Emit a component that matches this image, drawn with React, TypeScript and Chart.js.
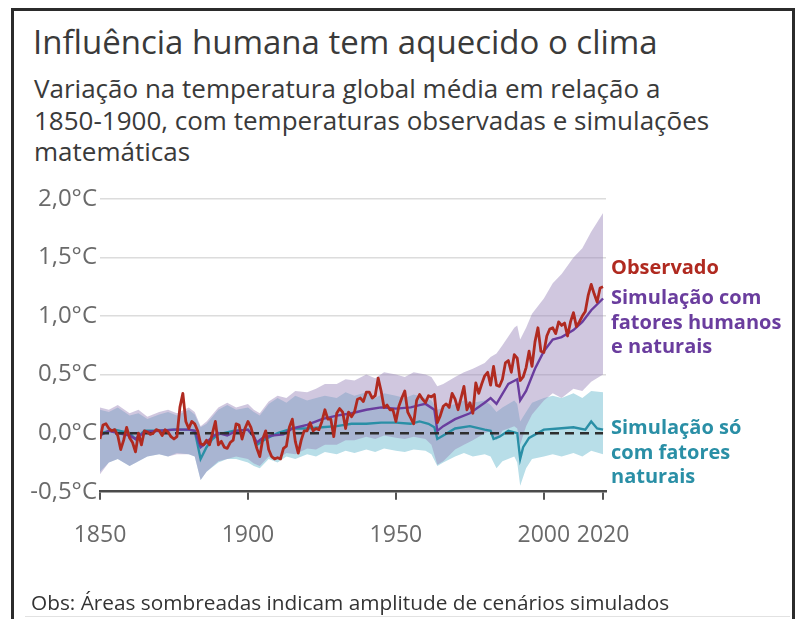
import React, { useEffect, useRef } from "react";
import { Chart, registerables } from "chart.js";

Chart.register(...registerables);

// ---------- DATA ----------
const START_YEAR = 1850;

// Observed global mean temperature change vs 1850-1900 (°C), one value per year 1850..2020
const observed = [
  -0.05, 0.07, 0.08, 0.04, 0.02, 0.03, -0.02, -0.14, -0.06, 0.05,
  -0.04, -0.08, -0.16, 0.0, -0.1, 0.02, 0.01, -0.01, 0.0, 0.03,
  0.02, -0.02, 0.03, 0.01, -0.03, -0.05, -0.03, 0.22, 0.34, 0.1,
  0.04, 0.1, 0.08, 0.02, -0.09, -0.1, -0.06, -0.1, 0.0, 0.1,
  -0.1, -0.07, -0.12, -0.13, -0.08, -0.06, 0.08, 0.07, -0.05, 0.04,
  0.1, 0.05, -0.04, -0.13, -0.2, -0.05, 0.02, -0.14, -0.2, -0.22,
  -0.21, -0.22, -0.13, -0.11, 0.05, 0.12, -0.07, -0.17, -0.06, 0.02,
  0.02, 0.09, 0.02, 0.04, 0.03, 0.1, 0.2, 0.12, 0.12, -0.03,
  0.17, 0.21, 0.18, 0.04, 0.18, 0.14, 0.18, 0.29, 0.3, 0.27,
  0.35, 0.35, 0.3, 0.32, 0.47, 0.36, 0.22, 0.24, 0.2, 0.2,
  0.1, 0.23, 0.3, 0.36, 0.18, 0.13, 0.08, 0.28, 0.33, 0.29,
  0.26, 0.32, 0.31, 0.33, 0.09, 0.15, 0.23, 0.25, 0.22, 0.34,
  0.29, 0.2, 0.3, 0.4, 0.2, 0.26, 0.17, 0.43, 0.34, 0.42,
  0.49, 0.52, 0.41, 0.57, 0.41, 0.4, 0.46, 0.6, 0.62, 0.52,
  0.67, 0.64, 0.45, 0.48, 0.56, 0.7, 0.57, 0.78, 0.9, 0.7,
  0.69, 0.83, 0.89, 0.9, 0.85, 0.95, 0.92, 0.94, 0.83, 0.95,
  1.03, 0.91, 0.95, 1.0, 1.04, 1.18, 1.27, 1.19, 1.12, 1.24,
  1.25,
];

// Simulation with human + natural factors (mean)
const humanYears = [
  1850, 1853, 1856, 1860, 1862, 1865, 1870, 1875, 1880, 1882, 1884, 1886, 1888,
  1890, 1893, 1896, 1900, 1902, 1903, 1905, 1908, 1912, 1915, 1920, 1925, 1930,
  1935, 1940, 1945, 1950, 1955, 1958, 1960, 1963, 1964, 1966, 1970, 1975, 1980,
  1982, 1984, 1988, 1991, 1992, 1994, 1997, 2000, 2003, 2006, 2010, 2013, 2016,
  2020,
];
const humanValues = [
  -0.02, 0.02, 0.0, -0.02, -0.05, 0.01, 0.02, 0.03, 0.03, 0.02, -0.12, -0.08, -0.03,
  0.0, -0.02, 0.02, 0.03, -0.03, -0.08, -0.04, -0.02, -0.01, 0.04, 0.07, 0.12, 0.15,
  0.17, 0.2, 0.22, 0.21, 0.22, 0.24, 0.25, 0.2, 0.02, 0.06, 0.12, 0.17, 0.26,
  0.3, 0.25, 0.42, 0.46, 0.28, 0.36, 0.55, 0.7, 0.8, 0.82, 0.88, 0.95, 1.05,
  1.15,
];

// Simulation with natural factors only (mean)
const naturalYears = [
  1850, 1855, 1860, 1862, 1865, 1870, 1875, 1880, 1882, 1884, 1886, 1888, 1890,
  1895, 1900, 1902, 1903, 1906, 1910, 1915, 1920, 1925, 1930, 1935, 1940, 1945,
  1950, 1955, 1958, 1961, 1963, 1964, 1966, 1970, 1975, 1980, 1982, 1983, 1985,
  1988, 1991, 1992, 1993, 1995, 2000, 2005, 2010, 2014, 2016, 2018, 2020,
];
const naturalValues = [
  0.0, 0.03, 0.0, -0.05, 0.02, 0.02, 0.03, 0.03, 0.02, -0.22, -0.12, -0.05, -0.01,
  0.02, 0.03, -0.03, -0.1, -0.05, 0.0, 0.04, 0.04, 0.05, 0.06, 0.08, 0.08, 0.09,
  0.09, 0.08, 0.1, 0.08, 0.05, -0.05, -0.02, 0.04, 0.06, 0.03, 0.02, -0.05, -0.03,
  0.02, 0.0, -0.22, -0.12, -0.04, 0.03, 0.04, 0.05, 0.03, 0.1, 0.04, 0.03,
];

// Simulated ranges (shaded areas)
const bandYears = [
  1850, 1853, 1856, 1860, 1863, 1866, 1870, 1873, 1876, 1880, 1882, 1884, 1886,
  1890, 1893, 1896, 1900, 1902, 1904, 1907, 1910, 1913, 1916, 1920, 1923, 1926,
  1930, 1933, 1936, 1940, 1943, 1946, 1950, 1953, 1956, 1960, 1962, 1964, 1966,
  1970, 1973, 1976, 1980, 1982, 1984, 1986, 1990, 1991, 1992, 1994, 1996, 2000,
  2003, 2006, 2010, 2013, 2016, 2020,
];
const humanUpper = [
  0.22, 0.2, 0.24, 0.17, 0.2, 0.14, 0.18, 0.2, 0.17, 0.22, 0.18, 0.06, 0.1,
  0.22, 0.26, 0.22, 0.25, 0.2, 0.17, 0.27, 0.32, 0.3, 0.36, 0.35, 0.38, 0.42,
  0.42, 0.46, 0.45, 0.5, 0.47, 0.52, 0.5, 0.48, 0.52, 0.5, 0.48, 0.4, 0.42,
  0.48, 0.52, 0.55, 0.6, 0.65, 0.68, 0.75, 0.9, 0.92, 0.8, 0.9, 1.02, 1.15,
  1.28, 1.36, 1.5, 1.58, 1.72, 1.88,
];
const humanLower = [
  -0.35, -0.25, -0.22, -0.28, -0.24, -0.2, -0.18, -0.2, -0.18, -0.18, -0.2, -0.4, -0.33,
  -0.24, -0.22, -0.2, -0.22, -0.26, -0.28, -0.2, -0.22, -0.17, -0.18, -0.13, -0.14, -0.1,
  -0.1, -0.06, -0.06, -0.03, -0.05, -0.02, -0.04, -0.05, -0.03, -0.05, -0.1, -0.27, -0.24,
  -0.14, -0.1, -0.06, 0.0, 0.02, -0.06, 0.02, 0.06, 0.04, -0.1, 0.06, 0.16, 0.28,
  0.34, 0.3, 0.38, 0.36, 0.44, 0.5,
];
const naturalUpper = [
  0.2, 0.18, 0.22, 0.15, 0.17, 0.12, 0.16, 0.18, 0.15, 0.2, 0.16, 0.05, 0.08,
  0.2, 0.24, 0.2, 0.22, 0.18, 0.15, 0.25, 0.3, 0.26, 0.32, 0.28, 0.3, 0.32,
  0.3, 0.35, 0.32, 0.35, 0.3, 0.34, 0.32, 0.3, 0.33, 0.3, 0.28, 0.2, 0.22,
  0.25, 0.28, 0.26, 0.28, 0.24, 0.18, 0.22, 0.28, 0.25, 0.1, 0.18, 0.26, 0.3,
  0.32, 0.3, 0.34, 0.3, 0.36, 0.35,
];
const naturalLower = [
  -0.33, -0.25, -0.22, -0.28, -0.24, -0.2, -0.18, -0.2, -0.17, -0.18, -0.2, -0.4, -0.33,
  -0.25, -0.22, -0.22, -0.25, -0.28, -0.3, -0.22, -0.25, -0.2, -0.22, -0.18, -0.2, -0.16,
  -0.18, -0.15, -0.17, -0.14, -0.16, -0.13, -0.15, -0.16, -0.14, -0.15, -0.18, -0.28, -0.25,
  -0.2, -0.17, -0.2, -0.18, -0.2, -0.3, -0.24, -0.2, -0.25, -0.45, -0.3, -0.22, -0.2,
  -0.18, -0.2, -0.17, -0.2, -0.15, -0.18,
];

const xTicks = [1850, 1900, 1950, 2000, 2020];
const yTicks = [-0.5, 0, 0.5, 1, 1.5, 2];
const zeroLine = [0, 0];
const zeroLineYears = [1850, 2020];

// ---------- STYLE ----------
const RED = "#b02a20";
const PURPLE = "#6a3d9e";
const TEAL = "#2a8fa6";
const FONT = '"Open Sans", "Noto Sans", sans-serif';

const pts = (xs: number[], ys: number[]) => xs.map((x, i) => ({ x, y: ys[i] }));

export default function App() {
  const canvasRef = useRef<HTMLCanvasElement | null>(null);

  useEffect(() => {
    const canvas = canvasRef.current;
    if (!canvas) return;
    const obsPts = observed.map((v, i) => ({ x: START_YEAR + i, y: v }));
    const chart = new Chart(canvas, {
      type: "line",
      data: {
        datasets: [
          {
            label: "Observado",
            data: obsPts,
            borderColor: RED,
            borderWidth: 2.8,
            pointRadius: 0,
            fill: false,
            order: 0,
            borderJoinStyle: "round",
          },
          {
            label: "zero",
            data: pts(zeroLineYears, zeroLine),
            borderColor: "#2e2e2e",
            borderWidth: 2.5,
            borderDash: [9, 6],
            pointRadius: 0,
            fill: false,
            order: 1,
          },
          {
            label: "Simulação com fatores humanos e naturais",
            data: pts(humanYears, humanValues),
            borderColor: PURPLE,
            borderWidth: 2.4,
            pointRadius: 0,
            fill: false,
            order: 2,
          },
          {
            label: "Simulação só com fatores naturais",
            data: pts(naturalYears, naturalValues),
            borderColor: TEAL,
            borderWidth: 2.4,
            pointRadius: 0,
            fill: false,
            order: 3,
          },
          {
            label: "humanLower",
            data: pts(bandYears, humanLower),
            borderWidth: 0,
            borderColor: "rgba(0,0,0,0)",
            pointRadius: 0,
            fill: false,
            order: 4,
          },
          {
            label: "humanUpper",
            data: pts(bandYears, humanUpper),
            borderWidth: 0,
            borderColor: "rgba(0,0,0,0)",
            backgroundColor: "rgba(150,130,185,0.45)",
            pointRadius: 0,
            fill: 4,
            order: 5,
          },
          {
            label: "naturalLower",
            data: pts(bandYears, naturalLower),
            borderWidth: 0,
            borderColor: "rgba(0,0,0,0)",
            pointRadius: 0,
            fill: false,
            order: 6,
          },
          {
            label: "naturalUpper",
            data: pts(bandYears, naturalUpper),
            borderWidth: 0,
            borderColor: "rgba(0,0,0,0)",
            backgroundColor: "rgb(184,222,232)",
            pointRadius: 0,
            fill: 6,
            order: 7,
          },
        ],
      },
      options: {
        responsive: false,
        animation: false,
        devicePixelRatio: 1,
        layout: { padding: { left: 0, top: 199, right: 195, bottom: 0 } },
        plugins: {
          legend: { display: false },
          tooltip: { enabled: false },
          title: { display: false },
        },
        elements: { line: { tension: 0 } },
        scales: {
          x: {
            type: "linear",
            min: 1850,
            max: 2021,
            afterBuildTicks: (scale: any) => {
              scale.ticks = xTicks.map((v) => ({ value: v }));
            },
            afterFit: (scale: any) => {
              scale.height = 127.3;
            },
            ticks: {
              autoSkip: false,
              maxRotation: 0,
              padding: 22,
              color: "#6a6a6a",
              font: { family: FONT, size: 23 },
              callback: (v: any) => String(v),
            },
            grid: {
              drawOnChartArea: false,
              drawTicks: true,
              tickLength: 8,
              color: "#555",
              lineWidth: 2,
            },
            border: { display: true, color: "#4a4a4a", width: 2.5 },
          },
          y: {
            type: "linear",
            min: -0.5,
            max: 2,
            afterBuildTicks: (scale: any) => {
              scale.ticks = yTicks.map((v) => ({ value: v }));
            },
            afterFit: (scale: any) => {
              scale.width = 100;
            },
            ticks: {
              padding: 3,
              color: "#6a6a6a",
              font: { family: FONT, size: 24 },
              callback: (v: any) => Number(v).toFixed(1).replace(".", ",") + "°C",
            },
            grid: {
              drawTicks: false,
              lineWidth: 1.5,
              color: (c: any) =>
                c.tick && (c.tick.value === 0 || c.tick.value === -0.5) ? "rgba(0,0,0,0)" : "#dcdcdc",
            },
            border: { display: false },
          },
        },
      },
    });
    return () => chart.destroy();
  }, []);

  const labelStyle = (color: string, top: number): React.CSSProperties => ({
    position: "absolute",
    left: 611,
    top,
    color,
    fontFamily: FONT,
    fontWeight: 700,
    fontSize: 20,
    lineHeight: "24.5px",
    whiteSpace: "nowrap",
  });

  return (
    <div
      style={{
        position: "absolute",
        left: 0,
        top: 0,
        width: 801,
        height: 619,
        overflow: "hidden",
        background: "#fff",
        fontFamily: FONT,
      }}
    >
      <div
        style={{
          position: "absolute",
          left: 11,
          top: 8,
          width: 778,
          height: 700,
          border: "3px solid #2b2b2b",
          borderBottom: "none",
        }}
      />
      <div
        style={{
          position: "absolute",
          left: 33,
          top: 24,
          fontSize: 33,
          lineHeight: "36px",
          color: "#3a3a3a",
          fontWeight: 400,
          whiteSpace: "nowrap",
        }}
      >
        Influência humana tem aquecido o clima
      </div>
      <div
        style={{
          position: "absolute",
          left: 34,
          top: 73,
          fontSize: 26,
          lineHeight: "31.5px",
          color: "#3a3a3a",
          fontWeight: 500,
          whiteSpace: "nowrap",
        }}
      >
        Variação na temperatura global média em relação a<br />
        1850-1900, com temperaturas observadas e simulações<br />
        matemáticas
      </div>
      <canvas
        ref={canvasRef}
        width={801}
        height={619}
        style={{ position: "absolute", left: 0, top: 0, width: 801, height: 619 }}
      />
      <div style={labelStyle(RED, 255)}>Observado</div>
      <div style={labelStyle(PURPLE, 285)}>
        Simulação com<br />fatores humanos<br />e naturais
      </div>
      <div style={labelStyle(TEAL, 415)}>
        Simulação só<br />com fatores<br />naturais
      </div>
      <div
        style={{
          position: "absolute",
          left: 31,
          top: 590,
          fontSize: 20.8,
          lineHeight: "24px",
          color: "#333",
          fontWeight: 500,
          whiteSpace: "nowrap",
        }}
      >
        Obs: Áreas sombreadas indicam amplitude de cenários simulados
      </div>
      <div
        style={{
          position: "absolute",
          left: 25,
          top: 616,
          width: 765,
          height: 1,
          background: "#e2e2e2",
        }}
      />
    </div>
  );
}
